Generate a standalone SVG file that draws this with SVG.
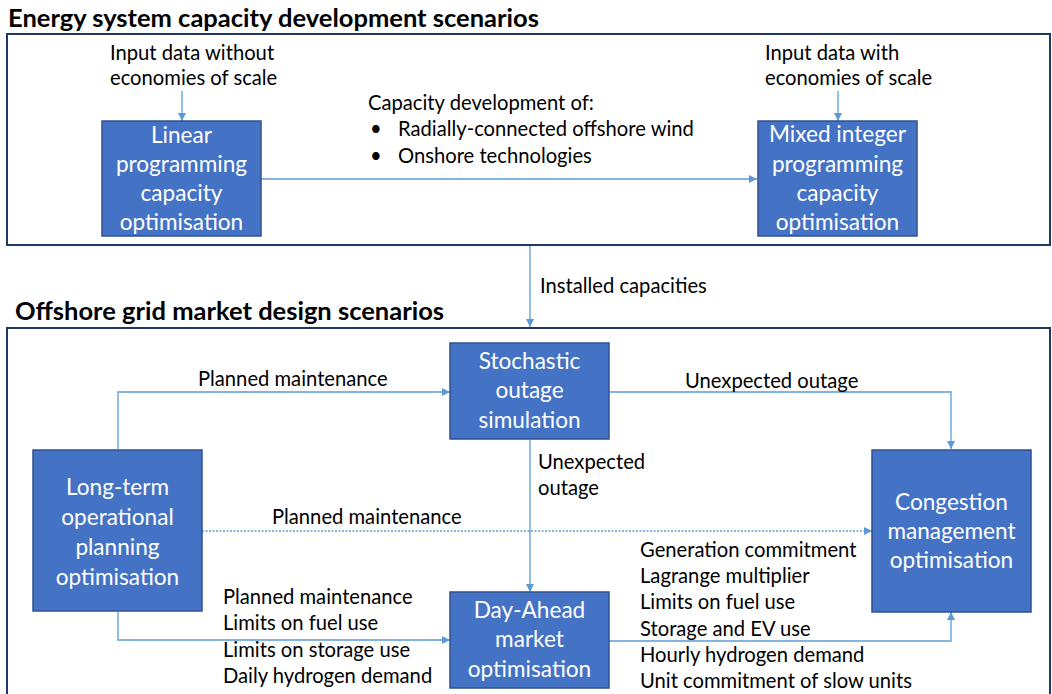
<svg xmlns="http://www.w3.org/2000/svg" width="1052" height="694" viewBox="0 0 1052 694">
  <style>
    .title { font-family: Lato, "Liberation Sans", sans-serif; font-weight: bold; font-size: 25.5px; fill: #000; }
    .frame { fill: none; stroke: #203864; stroke-width: 2; }
    .box { fill: #4472C4; stroke: #2F528F; stroke-width: 1.5; }
    .boxtext { font-family: Lato, "Liberation Sans", sans-serif; font-size: 22.6px; fill: #fff; text-anchor: middle; }
    .label { font-family: Lato, "Liberation Sans", sans-serif; font-size: 20.2px; fill: #000; }
    .conn { fill: none; stroke: #5B9BD5; stroke-width: 1.3; }
    .dotted { stroke-dasharray: 2 1.5; }
  </style>
  <defs>
    <marker id="arrow" viewBox="0 0 10 10" refX="10" refY="5" markerWidth="8" markerHeight="8" markerUnits="userSpaceOnUse" orient="auto">
      <path d="M0,0 L10,5 L0,10 z" fill="#5B9BD5"/>
    </marker>
  </defs>

  <rect width="1052" height="694" fill="#fff"/>

  <!-- Section frames and headings -->
  <text class="title" x="8" y="27">Energy system capacity development scenarios</text>
  <rect class="frame" x="7" y="34" width="1043" height="211"/>
  <text class="title" x="15" y="320">Offshore grid market design scenarios</text>
  <rect class="frame" x="7" y="328" width="1043" height="380"/>

  <!-- Connectors -->
  <g id="connectors">
    <line class="conn" x1="182" y1="91" x2="182" y2="121" marker-end="url(#arrow)"/>
    <line class="conn" x1="838" y1="91" x2="838" y2="121" marker-end="url(#arrow)"/>
    <line class="conn" x1="262" y1="179" x2="757" y2="179" marker-end="url(#arrow)"/>
    <line class="conn" x1="530" y1="246" x2="530" y2="327" marker-end="url(#arrow)"/>
    <polyline class="conn" points="118,449 118,392 450,392" marker-end="url(#arrow)"/>
    <polyline class="conn" points="609,392 951,392 951,449" marker-end="url(#arrow)"/>
    <line class="conn" x1="530" y1="440" x2="530" y2="592" marker-end="url(#arrow)"/>
    <line class="conn dotted" x1="202" y1="531" x2="872" y2="531" marker-end="url(#arrow)"/>
    <polyline class="conn" points="118,612 118,640 450,640" marker-end="url(#arrow)"/>
    <polyline class="conn" points="609,641 951,641 951,612" marker-end="url(#arrow)"/>
  </g>

  <!-- Connector labels -->
  <g id="labels">
    <text class="label" x="110" y="60">Input data without</text>
    <text class="label" x="110" y="85">economies of scale</text>
    <text class="label" x="765" y="60">Input data with</text>
    <text class="label" x="765" y="85">economies of scale</text>
    <text class="label" x="368" y="110">Capacity development of:</text>
    <text class="label" x="370" y="136">•</text>
    <text class="label" x="398" y="136">Radially-connected offshore wind</text>
    <text class="label" x="370" y="163">•</text>
    <text class="label" x="398" y="163">Onshore technologies</text>
    <text class="label" x="540" y="293">Installed capacities</text>
    <text class="label" x="198" y="386">Planned maintenance</text>
    <text class="label" x="685" y="388">Unexpected outage</text>
    <text class="label" x="538" y="469">Unexpected</text>
    <text class="label" x="538" y="495">outage</text>
    <text class="label" x="272" y="524">Planned maintenance</text>
    <text class="label" x="223" y="604">Planned maintenance</text>
    <text class="label" x="223" y="630">Limits on fuel use</text>
    <text class="label" x="223" y="657">Limits on storage use</text>
    <text class="label" x="223" y="683">Daily hydrogen demand</text>
    <text class="label" x="640" y="557">Generation commitment</text>
    <text class="label" x="640" y="583">Lagrange multiplier</text>
    <text class="label" x="640" y="609">Limits on fuel use</text>
    <text class="label" x="640" y="636">Storage and EV use</text>
    <text class="label" x="640" y="662">Hourly hydrogen demand</text>
    <text class="label" x="640" y="688">Unit commitment of slow units</text>
  </g>

  <!-- Nodes -->
  <g id="lp-capacity">
    <rect class="box" x="102" y="121" width="159" height="115"/>
    <text class="boxtext" x="181.5" y="143">Linear</text>
    <text class="boxtext" x="181.5" y="172">programming</text>
    <text class="boxtext" x="181.5" y="201">capacity</text>
    <text class="boxtext" x="181.5" y="230">optimisation</text>
  </g>
  <g id="mip-capacity">
    <rect class="box" x="758" y="121" width="159" height="115"/>
    <text class="boxtext" x="837.5" y="142">Mixed integer</text>
    <text class="boxtext" x="837.5" y="172">programming</text>
    <text class="boxtext" x="837.5" y="201">capacity</text>
    <text class="boxtext" x="837.5" y="230">optimisation</text>
  </g>
  <g id="stochastic-outage">
    <rect class="box" x="450" y="343" width="159" height="96"/>
    <text class="boxtext" x="529.5" y="369">Stochastic</text>
    <text class="boxtext" x="529.5" y="398">outage</text>
    <text class="boxtext" x="529.5" y="428">simulation</text>
  </g>
  <g id="long-term-planning">
    <rect class="box" x="33" y="450" width="169" height="161"/>
    <text class="boxtext" x="117.5" y="495">Long-term</text>
    <text class="boxtext" x="117.5" y="525">operational</text>
    <text class="boxtext" x="117.5" y="555">planning</text>
    <text class="boxtext" x="117.5" y="585">optimisation</text>
  </g>
  <g id="day-ahead-market">
    <rect class="box" x="450" y="592" width="159" height="96"/>
    <text class="boxtext" x="529.5" y="618">Day-Ahead</text>
    <text class="boxtext" x="529.5" y="647">market</text>
    <text class="boxtext" x="529.5" y="677">optimisation</text>
  </g>
  <g id="congestion-management">
    <rect class="box" x="872" y="450" width="159" height="162"/>
    <text class="boxtext" x="951.5" y="510">Congestion</text>
    <text class="boxtext" x="951.5" y="539">management</text>
    <text class="boxtext" x="951.5" y="568">optimisation</text>
  </g>
</svg>
